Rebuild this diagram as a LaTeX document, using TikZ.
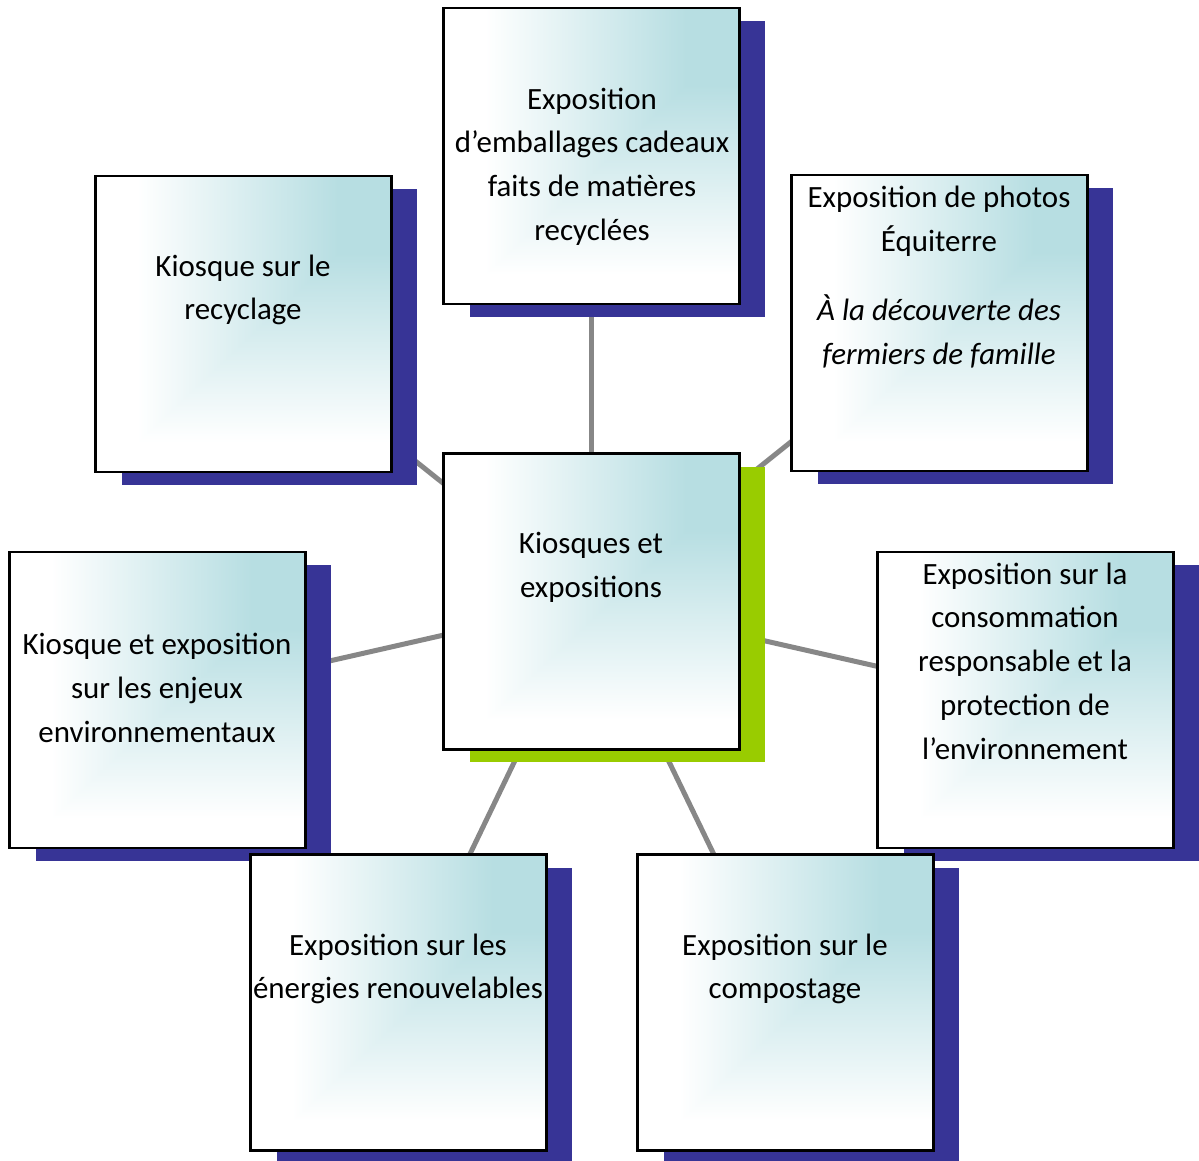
\documentclass[tikz,border=0pt]{standalone}
\usepackage{fontspec}
\setmainfont{Carlito}
\usetikzlibrary{shadows,backgrounds}
\definecolor{boxteal}{RGB}{183,222,226}
\definecolor{shadeblue}{RGB}{55,52,150}
\definecolor{hubgreen}{RGB}{153,204,0}
\definecolor{linkgray}{RGB}{135,135,135}
\pgfdeclarehorizontalshading{tealh}{100bp}{color(0bp)=(white); color(32bp)=(white); color(66bp)=(boxteal); color(100bp)=(boxteal)}
\pgfdeclareverticalshading{tealv}{100bp}{color(0bp)=(white); color(30bp)=(white); color(62bp)=(boxteal); color(100bp)=(boxteal)}
\tikzset{
  boxbase/.style={draw=black, line width=1.2pt, minimum width=5.92cm, minimum height=5.92cm, inner sep=0pt,
    path picture={
      \shade[shading=tealv] (path picture bounding box.south west) rectangle (path picture bounding box.north east);
      \shade[shading=tealh, blend mode=lighten] (path picture bounding box.south west) rectangle (path picture bounding box.north east);
    }},
  topicbox/.style={boxbase, general shadow={fill=shadeblue, opacity=1, shadow xshift=0.52cm, shadow yshift=-0.26cm}},
  hubbox/.style={boxbase, general shadow={fill=hubgreen, opacity=1, shadow xshift=0.52cm, shadow yshift=-0.26cm}},
  txt/.style={align=center, inner sep=0pt, font=\fontsize{17.6pt}{24.9pt}\selectfont},
  link/.style={draw=linkgray, line width=0.1cm}
}
\begin{document}
\begin{tikzpicture}[x=0.02cm,y=-0.02cm]
  \useasboundingbox (0,0) rectangle (1199,1160);
  % boxes
  \node[topicbox] (gift) at (591.5,156) {};
  \node[topicbox] (recyc) at (243.5,324) {};
  \node[topicbox] (photo) at (939.5,323) {};
  \node[topicbox] (enjeux) at (157.5,700) {};
  \node[topicbox] (conso) at (1025.5,700) {};
  \node[hubbox] (hub) at (591.5,601.5) {};
  \node[topicbox] (energ) at (398.5,1002.5) {};
  \node[topicbox] (compost) at (785.5,1002.5) {};
  % texts
  \node[txt] (gift-t) at (592,166.5) {Exposition\\d’emballages cadeaux\\faits de matières\\recyclées};
  \node[txt] (recyc-t) at (243,290) {Kiosque sur le\\recyclage};
  \node[txt] (photo-t) at (939,277) {Exposition de photos\\Équiterre\\[14.8pt]\itshape À la découverte des\\\itshape fermiers de famille};
  \node[txt] (hub-t) at (591,567) {Kiosques et\\expositions};
  \node[txt] (enjeux-t) at (157,688) {Kiosque et exposition\\sur les enjeux\\environnementaux};
  \node[txt] (conso-t) at (1025,661) {Exposition sur la\\consommation\\responsable et la\\protection de\\l’environnement};
  \node[txt] (energ-t) at (398,969) {Exposition sur les\\énergies renouvelables};
  \node[txt] (compost-t) at (785,969) {Exposition sur le\\compostage};
  % connectors, behind everything
  \begin{scope}[on background layer]
    \foreach \n in {gift,recyc,photo,enjeux,conso,energ,compost}
      \draw[link] (hub.center) -- (\n.center);
  \end{scope}
\end{tikzpicture}
\end{document}
